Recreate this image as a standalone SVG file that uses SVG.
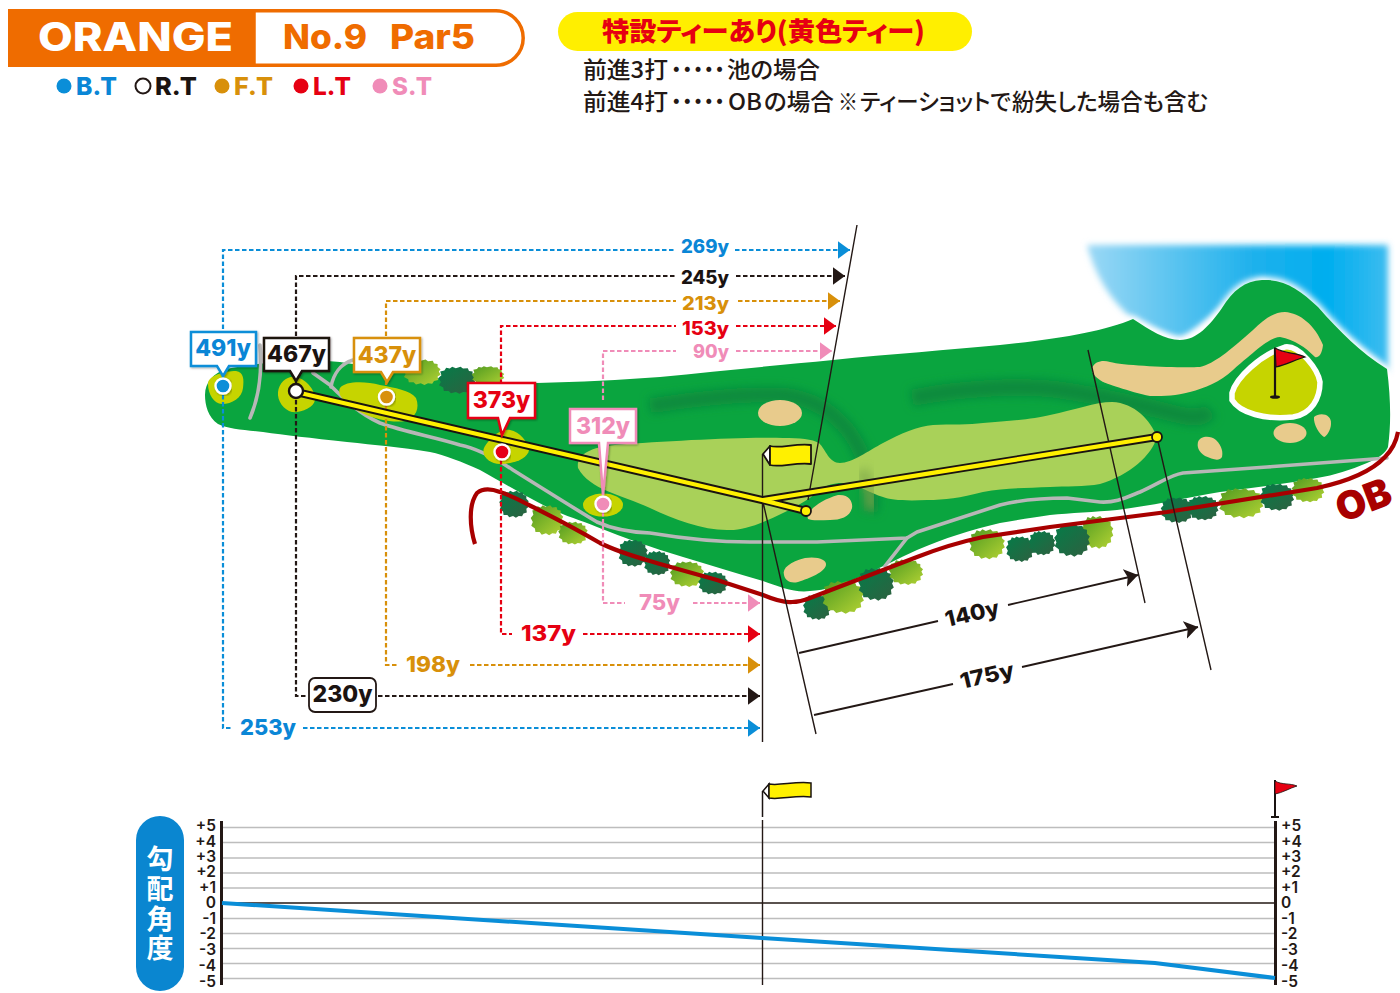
<svg xmlns="http://www.w3.org/2000/svg" xmlns:xlink="http://www.w3.org/1999/xlink" width="1400" height="993" viewBox="0 0 1400 993">
<style>
text{font-family:Inter,"Liberation Sans","Noto Sans CJK JP",sans-serif;font-weight:800}
text.jp{font-family:"Noto Sans CJK JP",sans-serif;font-feature-settings:"palt"}
.n{font-size:23px;font-weight:500;fill:#231815}
.d{font-size:18.500px}
.e{font-size:21.500px}
.c{font-size:23px;text-anchor:middle}
text.ax{font-size:15.500px;font-weight:600;fill:#231815}
text.axl{text-anchor:end}
.blue{fill:#0a86d6}.blk{fill:#1a1311}.org{fill:#d8900a}.red{fill:#e60012}.pnk{fill:#f08cb8}
.dash{fill:none;stroke-width:2.200;stroke-dasharray:4.500 2.500}
.box{fill:#fff;stroke-width:2.500;filter:url(#sh)}
.tl{fill:none;stroke:#231815;stroke-width:1.400}
.dim{fill:none;stroke:#231815;stroke-width:1.800}
.bk{fill:#e8cb8c}
.pad{fill:#c6d400}
.path{fill:none;stroke:#b7b7b7;stroke-width:3.600;stroke-linecap:round;stroke-linejoin:round}
.grid{stroke:#bdbdbd;stroke-width:1.600}
</style>
<defs>
<filter id="sh" x="-10%" y="-10%" width="120%" height="125%"><feDropShadow dx="1" dy="1" stdDeviation="0.800" flood-color="#000" flood-opacity=".35"/></filter>
<filter id="b3" x="-20%" y="-20%" width="140%" height="140%"><feGaussianBlur stdDeviation="3"/></filter>
<filter id="b6" x="-30%" y="-60%" width="160%" height="220%"><feGaussianBlur stdDeviation="5"/></filter>
<linearGradient id="lake" x1="0" y1="0" x2="1" y2="0"><stop offset="0" stop-color="#9bd8f5"/><stop offset=".55" stop-color="#1fb1ec"/><stop offset=".8" stop-color="#00aeef"/><stop offset="1" stop-color="#3dbcf0"/></linearGradient>
<linearGradient id="td" x1="0" y1="0" x2="1" y2="1"><stop offset="0" stop-color="#047c48"/><stop offset="1" stop-color="#2f6040"/></linearGradient>
<linearGradient id="tl" x1="0" y1="0" x2="1" y2="1"><stop offset="0" stop-color="#4f9a20"/><stop offset="1" stop-color="#b4d334"/></linearGradient>
<path id="tree" d="M-4-14-1-12.500 3-14 5-12 9-12.500 10-9.500 13-9 13-5.500 15.500-3 14-.5 15.500 3 13 5 13.500 9 10 10 8.500 13 5 12.500 2 14.500-1 12.500-5 14-7 11.500-11 11.500-11.500 8-15 5.500-13.500 2-15.500-2-13-5-14-9-10.500-10-9-13-6-12Z"/>
<marker id="aB" markerUnits="userSpaceOnUse" markerWidth="13" markerHeight="18" refX="12.500" refY="9" orient="auto"><path d="M0 0 12.500 9 0 18Z" fill="#0a8ed8"/></marker>
<marker id="aK" markerUnits="userSpaceOnUse" markerWidth="13" markerHeight="18" refX="12.500" refY="9" orient="auto"><path d="M0 0 12.500 9 0 18Z" fill="#231815"/></marker>
<marker id="aO" markerUnits="userSpaceOnUse" markerWidth="13" markerHeight="18" refX="12.500" refY="9" orient="auto"><path d="M0 0 12.500 9 0 18Z" fill="#d8900a"/></marker>
<marker id="aR" markerUnits="userSpaceOnUse" markerWidth="13" markerHeight="18" refX="12.500" refY="9" orient="auto"><path d="M0 0 12.500 9 0 18Z" fill="#e60012"/></marker>
<marker id="aP" markerUnits="userSpaceOnUse" markerWidth="13" markerHeight="18" refX="12.500" refY="9" orient="auto"><path d="M0 0 12.500 9 0 18Z" fill="#f08cb8"/></marker>
<marker id="aD" markerUnits="userSpaceOnUse" markerWidth="14" markerHeight="18" refX="13.500" refY="9" orient="auto"><path d="M0 0 13.500 9 0 18 3 9Z" fill="#231815"/></marker>
<path id="hole" d="M205 395C205 382 214 373 226 369C260 362 310 358 340 362C370 366 400 373 437 378C470 383 500 384 537 383C580 382 620 380 660 377C720 371 780 365 833 360C890 354 950 350 1000 345C1060 339 1105 331 1133 319C1150 330 1165 340 1180 340C1197 340 1210 325 1222 308C1233 290 1245 281 1262 280C1285 279 1300 290 1318 307C1340 332 1360 352 1387 369C1391 400 1391 425 1388 447C1386 452 1380 458 1367 463C1350 470 1335 475 1317 478C1285 484 1250 488 1220 492C1185 498 1150 506 1117 510C1095 512 1070 513 1050 515C1035 517 1018 520 1000 523C970 530 945 538 917 550C880 567 840 590 810 591C795 593 780 587 763 581C735 573 710 565 683 557C650 547 625 538 597 527C580 520 565 516 547 507C525 496 500 481 480 470C462 462 445 455 430 452C400 447 375 445 347 442C310 438 285 435 263 432C245 430 228 429 218 424C208 417 205 405 205 395Z"/>
</defs>

<g id="header">
<rect x="8" y="9" width="247" height="58" fill="#ef6c00"/>
<path d="M254 10.800H496A26.200 26.200 0 0 1 496 65.200H254Z" fill="#fff" stroke="#ef6c00" stroke-width="3.500"/>
<text x="38" y="50.500" font-size="39" fill="#fff" textLength="195" lengthAdjust="spacingAndGlyphs">ORANGE</text>
<text x="283" y="49" font-size="34" fill="#ef6c00" textLength="84" lengthAdjust="spacingAndGlyphs">No.9</text>
<text x="390" y="49" font-size="34" fill="#ef6c00" textLength="85" lengthAdjust="spacingAndGlyphs">Par5</text>
</g>
<g id="legend">
<circle cx="64" cy="86" r="7.500" fill="#0a8ed8"/><text x="76" y="94.500" class="blue" font-size="25" textLength="41" lengthAdjust="spacingAndGlyphs">B.T</text>
<circle cx="143" cy="86" r="7.500" fill="#fff" stroke="#231815" stroke-width="2"/><text x="155" y="94.500" class="blk" font-size="25" textLength="42" lengthAdjust="spacingAndGlyphs">R.T</text>
<circle cx="222" cy="86" r="7.500" fill="#d8900a"/><text x="234" y="94.500" class="org" font-size="25" textLength="39" lengthAdjust="spacingAndGlyphs">F.T</text>
<circle cx="301" cy="86" r="7.500" fill="#e60012"/><text x="313" y="94.500" class="red" font-size="25" textLength="38" lengthAdjust="spacingAndGlyphs">L.T</text>
<circle cx="380" cy="86" r="7.500" fill="#f08cb8"/><text x="392" y="94.500" class="pnk" font-size="25" textLength="40" lengthAdjust="spacingAndGlyphs">S.T</text>
</g>
<g id="notice">
<rect x="558" y="12" width="414" height="39" rx="19.500" fill="#ffef00"/>
<text class="jp" x="602" y="41" font-size="26" style="font-weight:900" fill="#e60012" textLength="323" lengthAdjust="spacingAndGlyphs">特設ティーあり(黄色ティー)</text>
<text class="jp n" x="583" y="78" textLength="85" lengthAdjust="spacingAndGlyphs">前進3打</text>
<text class="jp n" x="671" y="78" textLength="54" lengthAdjust="spacingAndGlyphs">・・・・・</text>
<text class="jp n" x="727" y="78" textLength="93" lengthAdjust="spacingAndGlyphs">池の場合</text>
<text class="jp n" x="583" y="110" textLength="85" lengthAdjust="spacingAndGlyphs">前進4打</text>
<text class="jp n" x="671" y="110" textLength="54" lengthAdjust="spacingAndGlyphs">・・・・・</text>
<text class="jp n" x="728" y="110" textLength="34" lengthAdjust="spacingAndGlyphs">OB</text>
<text class="jp n" x="764" y="110" textLength="70" lengthAdjust="spacingAndGlyphs">の場合</text>
<text class="jp n" x="838" y="110" textLength="20" lengthAdjust="spacingAndGlyphs">※</text>
<text class="jp n" x="860" y="110" textLength="151" lengthAdjust="spacingAndGlyphs">ティーショットで</text>
<text class="jp n" x="1012" y="110" textLength="196" lengthAdjust="spacingAndGlyphs">紛失した場合も含む</text>
</g>

<g id="course">
<path d="M1087 245H1388V372L1340 332 1262 280 1222 308 1180 340 1133 319C1110 300 1095 275 1087 245Z" fill="url(#lake)" filter="url(#b3)"/>
<use xlink:href="#hole" fill="#fff" stroke="#fff" stroke-width="6" filter="url(#b3)"/>
<use xlink:href="#hole" fill="#0aa53f"/>
<path d="M650 406C700 398 760 392 790 396C825 402 850 425 862 455C872 480 872 500 870 512" fill="none" stroke="#0a8a3c" stroke-width="15" filter="url(#b6)"/>
<path d="M912 398C960 388 1020 385 1060 390C1100 396 1140 405 1180 415C1200 420 1205 415 1210 410" fill="none" stroke="#0a8a3c" stroke-width="17" filter="url(#b6)"/>
<path id="rough" d="M578 468C576 455 590 447 615 445C670 441 740 437 783 438C800 438 812 439 819 443C826 450 829 463 840 463C852 463 868 451 883 443C900 434 918 426 933 425C950 424 970 425 983 423C1010 421 1035 419 1050 415C1075 410 1095 402 1112 402C1135 403 1150 420 1157 437C1152 455 1130 475 1100 484C1085 487 1065 486 1050 487C1025 488 1005 488 983 492C960 498 945 500 927 500C905 501 890 500 883 497C870 493 860 486 850 484C840 482 830 483 820 490C812 497 800 505 783 513C765 522 745 530 730 530C705 531 675 520 650 508C620 494 590 490 578 468Z" fill="#a9d159"/>
<path d="M862 470C868 485 872 495 871 510" fill="none" stroke="#7fa84a" stroke-width="13" filter="url(#b6)" opacity=".7"/>
<ellipse cx="780" cy="413" rx="22" ry="13" class="bk"/>
<path d="M808 519C805 512 820 500 838 495C850 494 853 503 852 508C850 517 840 520 830 520C822 520 812 521 808 519Z" class="bk"/>
<path d="M784 575C782 568 790 562 805 558C818 556 827 560 826 565C825 572 810 578 798 582C790 584 785 580 784 575Z" class="bk"/>
<path d="M1092 368C1095 361 1103 360 1110 362C1125 366 1180 368 1200 367C1215 363 1228 352 1253 330C1265 318 1275 312 1285 312C1300 313 1315 325 1323 345C1322 355 1318 358 1315 357C1305 347 1295 340 1280 337C1270 338 1262 345 1233 370C1220 382 1205 388 1190 392C1175 396 1167 396 1150 396C1130 392 1103 382 1103 382C1096 378 1091 373 1092 368Z" class="bk"/>
<path d="M1198 442C1200 436 1210 435 1216 440C1222 446 1223 452 1222 457C1219 462 1212 459 1205 456C1198 451 1197 447 1198 442Z" class="bk"/>
<ellipse cx="1290" cy="433" rx="16.500" ry="10" class="bk"/>
<path d="M1314 417C1320 412 1332 414 1331 424C1331 430 1326 437 1324 437C1320 435 1313 424 1314 417Z" class="bk"/>
<path d="M1232 393C1236 378 1260 355 1285 347C1300 345 1318 370 1320 382C1320 398 1312 414 1293 417C1265 420 1240 413 1232 400Z" fill="#c6d400" stroke="#fff" stroke-width="5.500"/>
<path class="path" d="M1387 458 1267 467 1183 473C1170 475 1160 483 1140 492C1125 498 1115 503 1100 502L1067 498C1045 498 1020 500 1000 505L917 532 907 538 817 542 750 542C720 542 680 538 650 533C625 532 610 528 597 522C585 515 545 490 513 470C495 458 475 448 460 445C435 437 405 432 380 423C360 414 345 400 330 385L313 373"/>
<path class="path" d="M353 360C340 364 333 375 331 387M907 538 885 566M260 345C262 370 260 395 250 418"/>
<g id="pads">
<path class="pad" d="M208 384C208 375 225 371 236 371C244 372 244 380 243 388C242 398 232 404 222 404C214 404 208 394 208 384Z"/>
<path class="pad" d="M278 392C279 382 288 375 296 377C308 380 316 392 315 400C314 408 300 413 292 412C284 410 277 401 278 392Z"/>
<path class="pad" d="M340 388C345 381 365 381 380 385C395 388 410 390 416 398C420 408 416 418 405 421C395 423 375 420 360 412C348 405 336 396 340 388Z"/>
<path class="pad" d="M484 448C488 440 500 428 510 430C520 432 528 442 529 450C528 458 515 464 500 464C490 464 481 456 484 448Z"/>
<ellipse class="pad" cx="603" cy="505" rx="20" ry="11.500"/>
</g>
</g>

<g id="trees">
<use xlink:href="#tree" fill="url(#tl)" transform="translate(422 372) scale(1.200 .9)"/>
<use xlink:href="#tree" fill="url(#td)" transform="translate(457 380) scale(1.200 .95)"/>
<use xlink:href="#tree" fill="url(#tl)" transform="translate(488 376) scale(1.050 .7)"/>
<use xlink:href="#tree" fill="url(#td)" transform="translate(514 504) scale(.95)"/>
<use xlink:href="#tree" fill="url(#tl)" transform="translate(547 520) scale(1.050)"/>
<use xlink:href="#tree" fill="url(#tl)" transform="translate(573 533) scale(.95 .8)"/>
<use xlink:href="#tree" fill="url(#td)" transform="translate(633 553) scale(.95)"/>
<use xlink:href="#tree" fill="url(#td)" transform="translate(657 563) scale(.85)"/>
<use xlink:href="#tree" fill="url(#tl)" transform="translate(687 574) scale(1.100 .9)"/>
<use xlink:href="#tree" fill="url(#td)" transform="translate(713 583) scale(.95 .8)"/>
<use xlink:href="#tree" fill="url(#td)" transform="translate(817 607) scale(.9)"/>
<use xlink:href="#tree" fill="url(#tl)" transform="translate(843 597) scale(1.350 1.150)"/>
<use xlink:href="#tree" fill="url(#td)" transform="translate(876 584) scale(1.150)"/>
<use xlink:href="#tree" fill="url(#tl)" transform="translate(906 572) scale(1.100 .9)"/>
<use xlink:href="#tree" fill="url(#tl)" transform="translate(987 544) scale(1.150 1.050)"/>
<use xlink:href="#tree" fill="url(#td)" transform="translate(1020 549) scale(.9)"/>
<use xlink:href="#tree" fill="url(#td)" transform="translate(1042 543) scale(.85)"/>
<use xlink:href="#tree" fill="url(#tl)" transform="translate(1097 532) scale(1.050 1.150)"/>
<use xlink:href="#tree" fill="url(#td)" transform="translate(1072 540) scale(1.150)"/>
<use xlink:href="#tree" fill="url(#td)" transform="translate(1177 510) scale(1.050 .9)"/>
<use xlink:href="#tree" fill="url(#td)" transform="translate(1203 508) scale(1 .85)"/>
<use xlink:href="#tree" fill="url(#tl)" transform="translate(1241 503) scale(1.450 1.050)"/>
<use xlink:href="#tree" fill="url(#td)" transform="translate(1277 497) scale(1.100 .95)"/>
<use xlink:href="#tree" fill="url(#tl)" transform="translate(1308 490) scale(1.050 .85)"/>
</g>
<g id="ob">
<path d="M475 544C470 528 468 505 477 493C483 488 492 489 500 492C515 497 525 503 533 507C555 518 578 530 600 543C620 553 640 558 660 564L717 580 763 595C775 600 785 603 792 602C800 602 805 600 810 598L857 580 917 557C940 548 960 542 983 537L1050 527 1167 512 1317 488C1345 482 1370 473 1385 457C1392 450 1396 443 1398 432" fill="none" stroke="#a80000" stroke-width="4.200"/>
<text transform="translate(1342 523) rotate(-21)" font-size="39" fill="#a80000" style="font-weight:900">OB</text>
</g>

<g id="connectors">
<path class="dash" stroke="#0a8ed8" d="M223 385V250H676"/><path class="dash" stroke="#0a8ed8" d="M735 250H850" marker-end="url(#aB)"/>
<path class="dash" stroke="#231815" d="M296 385V276H676"/><path class="dash" stroke="#231815" d="M736 276H845" marker-end="url(#aK)"/>
<path class="dash" stroke="#d8900a" d="M386 385V301H676"/><path class="dash" stroke="#d8900a" d="M738 301H840" marker-end="url(#aO)"/>
<path class="dash" stroke="#e60012" d="M501 440V326H676"/><path class="dash" stroke="#e60012" d="M736 326H836" marker-end="url(#aR)"/>
<path class="dash" stroke="#f08cb8" d="M603 400V351H676"/><path class="dash" stroke="#f08cb8" d="M736 351H832" marker-end="url(#aP)"/>
<path class="dash" stroke="#0a8ed8" d="M223 395V728H231"/><path class="dash" stroke="#0a8ed8" d="M303 728H760" marker-end="url(#aB)"/>
<path class="dash" stroke="#231815" d="M296 400V696H308"/><path class="dash" stroke="#231815" d="M378 696H760" marker-end="url(#aK)"/>
<path class="dash" stroke="#d8900a" d="M386 405V665H397"/><path class="dash" stroke="#d8900a" d="M470 665H760" marker-end="url(#aO)"/>
<path class="dash" stroke="#e60012" d="M501 460V634H512"/><path class="dash" stroke="#e60012" d="M583 634H760" marker-end="url(#aR)"/>
<path class="dash" stroke="#f08cb8" d="M603 512V603H625"/><path class="dash" stroke="#f08cb8" d="M693 603H760" marker-end="url(#aP)"/>
<path class="tl" d="M857 225 808 500M762.500 454V742M763 502 816 734M1088 350 1145 603M1157 437 1211 670"/>
<path class="dim" d="M799 653 938 621"/><path class="dim" d="M1008 605 1138 575" marker-end="url(#aD)"/>
<path class="dim" d="M814 715 953 684"/><path class="dim" d="M1022 667 1198 627" marker-end="url(#aD)"/>
<path d="M296 392 762 500 806 511M763 500 1157 437" fill="none" stroke="#1a1311" stroke-width="8"/>
<path d="M296 392 762 500 806 511M763 500 1157 437" fill="none" stroke="#fff000" stroke-width="4.300"/>
<circle cx="806" cy="511" r="5" fill="#fff000" stroke="#1a1311" stroke-width="1.800"/>
<circle cx="1157" cy="437" r="5" fill="#fff000" stroke="#1a1311" stroke-width="1.800"/>
</g>

<g id="distance-labels">
<text x="681" y="253" class="d blue" textLength="48" lengthAdjust="spacingAndGlyphs">269y</text>
<text x="681" y="284" class="d blk" textLength="48" lengthAdjust="spacingAndGlyphs">245y</text>
<text x="682" y="310" class="d org" textLength="47" lengthAdjust="spacingAndGlyphs">213y</text>
<text x="682" y="335" class="d red" textLength="47" lengthAdjust="spacingAndGlyphs">153y</text>
<text x="693" y="358" class="d pnk" textLength="36" lengthAdjust="spacingAndGlyphs">90y</text>
<text x="639" y="610" class="e pnk" textLength="41" lengthAdjust="spacingAndGlyphs">75y</text>
<text x="521" y="641" class="e red" textLength="55" lengthAdjust="spacingAndGlyphs">137y</text>
<text x="406" y="672" class="e org" textLength="54" lengthAdjust="spacingAndGlyphs">198y</text>
<text x="240" y="735" class="e blue" textLength="56" lengthAdjust="spacingAndGlyphs">253y</text>
<text transform="translate(947 627) rotate(-13)" class="e blk" textLength="55" lengthAdjust="spacingAndGlyphs">140y</text>
<text transform="translate(962 689) rotate(-13)" class="e blk" textLength="55" lengthAdjust="spacingAndGlyphs">175y</text>
</g>

<g id="node-230y"><rect x="309" y="678" width="67" height="34" rx="6" fill="#fff" stroke="#231815" stroke-width="1.800"/><text x="342.500" y="702" class="c blk">230y</text></g>

<g id="tee-blue"><path class="box" stroke="#0a8ed8" d="M191 332H256V366H229L223 376 217 366H191Z"/><text x="223" y="356" class="c blue">491y</text><circle cx="223" cy="386" r="7.500" fill="#0a8ed8" stroke="#fff" stroke-width="2.400" filter="url(#sh)"/></g>
<g id="tee-black"><path class="box" stroke="#1a1311" d="M264 338H329V371H302L296 381 290 371H264Z"/><text x="296.500" y="362" class="c blk">467y</text><circle cx="296" cy="391" r="7" fill="#fff" stroke="#1a1311" stroke-width="2.400"/></g>
<g id="tee-orange"><path class="box" stroke="#d8900a" d="M354 338H420V372H393L387 382 381 372H354Z"/><text x="387" y="363" class="c org">437y</text><circle cx="386.500" cy="397" r="7.500" fill="#d8900a" stroke="#fff" stroke-width="2.400" filter="url(#sh)"/></g>
<g id="tee-red"><path class="box" stroke="#e60012" d="M468 383H535V418H510L502 435 498 418H468Z"/><text x="501.500" y="408" class="c red">373y</text><circle cx="502" cy="452" r="7.500" fill="#e60012" stroke="#fff" stroke-width="2.400" filter="url(#sh)"/></g>
<g id="tee-pink"><path class="box" stroke="#f08cb8" d="M570 409H636V443H608L603 495 599 443H570Z"/><text x="603" y="434" class="c pnk">312y</text><circle cx="603" cy="504" r="7.500" fill="#f08cb8" stroke="#fff" stroke-width="2.400" filter="url(#sh)"/></g>

<g id="flag-yellow"><path d="M770 446 763 454 770 465Z" fill="#fff" stroke="#1a1311" stroke-width="1.800" stroke-linejoin="round"/><path d="M770 446C780 449 795 443 811 445V464C795 462 780 468 770 465Z" fill="#fff000" stroke="#1a1311" stroke-width="1.800" stroke-linejoin="round"/></g>
<g id="flag-red"><path d="M1275 348V398" stroke="#1a1311" stroke-width="2.200"/><ellipse cx="1275" cy="397" rx="5" ry="1.800" fill="#1a1311"/><path d="M1275 348C1285 354 1295 352 1305 357C1295 360 1285 365 1276 367Z" fill="#e60012" stroke="#1a1311" stroke-width="1.200"/></g>

<g id="chart">
<rect x="136" y="816" width="48" height="175" rx="24" fill="#0a86d0"/>
<text class="jp" x="160" y="869" font-size="27" fill="#fff" text-anchor="middle" style="font-weight:700">勾</text>
<text class="jp" x="160" y="899" font-size="27" fill="#fff" text-anchor="middle" style="font-weight:700">配</text>
<text class="jp" x="160" y="929" font-size="27" fill="#fff" text-anchor="middle" style="font-weight:700">角</text>
<text class="jp" x="160" y="958" font-size="27" fill="#fff" text-anchor="middle" style="font-weight:700">度</text>
<path class="grid" d="M222 827.500H1275M222 842.500H1275M222 858H1275M222 873H1275M222 888H1275M222 918.500H1275M222 933.500H1275M222 948.500H1275M222 963.500H1275M222 978.500H1275"/>
<path d="M222 903H1275" stroke="#231815" stroke-width="1.600"/>
<path d="M221.500 821V985M1275.500 821V985" stroke="#231815" stroke-width="3"/>
<path d="M762.500 820V985" stroke="#231815" stroke-width="1.400"/>
<path d="M222 903 762 938 1155 963 1275 978" fill="none" stroke="#0a8ed8" stroke-width="4"/>
<g>
<text class="ax axl" x="216" y="831">+5</text><text class="ax axl" x="216" y="846.500">+4</text><text class="ax axl" x="216" y="862">+3</text><text class="ax axl" x="216" y="877">+2</text><text class="ax axl" x="216" y="893">+1</text><text class="ax axl" x="216" y="908">0</text><text class="ax axl" x="216" y="923.500">-1</text><text class="ax axl" x="216" y="939">-2</text><text class="ax axl" x="216" y="955">-3</text><text class="ax axl" x="216" y="971">-4</text><text class="ax axl" x="216" y="986.500">-5</text>
</g>
<g>
<text class="ax" x="1281" y="831">+5</text><text class="ax" x="1281" y="846.500">+4</text><text class="ax" x="1281" y="862">+3</text><text class="ax" x="1281" y="877">+2</text><text class="ax" x="1281" y="893">+1</text><text class="ax" x="1281" y="908">0</text><text class="ax" x="1281" y="923.500">-1</text><text class="ax" x="1281" y="939">-2</text><text class="ax" x="1281" y="955">-3</text><text class="ax" x="1281" y="971">-4</text><text class="ax" x="1281" y="986.500">-5</text>
</g>
<path d="M769 784 763 791 769 798Z" fill="#fff" stroke="#1a1311" stroke-width="1.500"/>
<path d="M769 784C780 786 795 781 811 783V797C795 795 780 800 769 798Z" fill="#fff000" stroke="#1a1311" stroke-width="1.500"/>
<path d="M762.500 791V817" stroke="#1a1311" stroke-width="1.500"/>
<path d="M1275 780V817" stroke="#1a1311" stroke-width="2"/><path d="M1271 817H1279" stroke="#1a1311" stroke-width="2"/>
<path d="M1275 781C1282 785 1290 783 1297 786C1290 788 1282 793 1275 794Z" fill="#e60012" stroke="#1a1311" stroke-width=".8"/>
</g>
</svg>
